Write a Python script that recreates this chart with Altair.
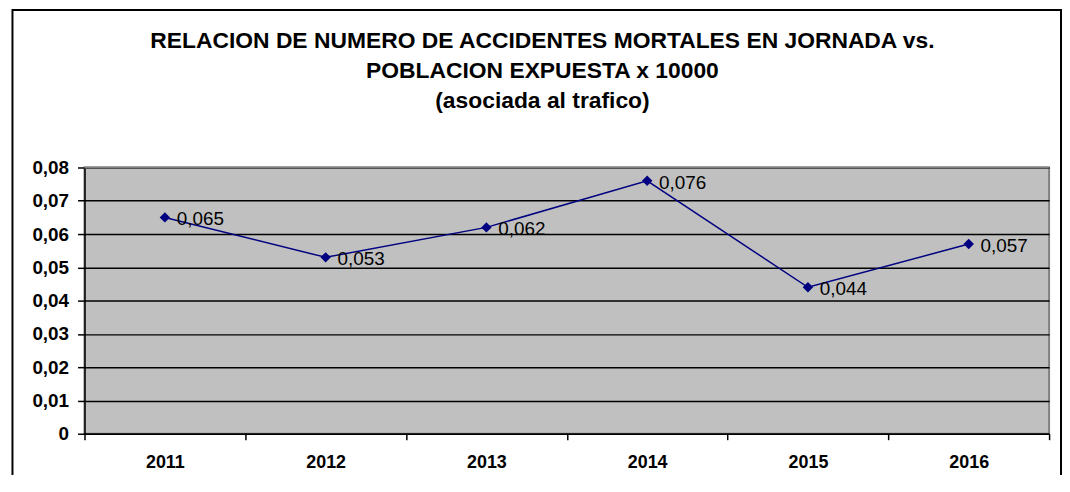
import altair as alt
import pandas as pd

years = ["2011", "2012", "2013", "2014", "2015", "2016"]
values = [0.065, 0.053, 0.062, 0.076, 0.044, 0.057]
y_ticks = [0, 0.01, 0.02, 0.03, 0.04, 0.05, 0.06, 0.07, 0.08]
title_lines = [
    "RELACION DE NUMERO DE ACCIDENTES MORTALES EN JORNADA vs.",
    "POBLACION EXPUESTA x 10000",
    "(asociada al trafico)",
]

df = pd.DataFrame({"year": years, "value": values})
FONT = "Liberation Sans"

x_enc = alt.X(
    "year:O",
    scale=alt.Scale(type="band", paddingInner=0, paddingOuter=0),
    axis=alt.Axis(
        title=None, labelAngle=0, tickBand="extent", grid=False,
        domainColor="black", domainWidth=1.5, tickColor="black", tickWidth=1.5,
        tickSize=6, labelPadding=14, labelFont=FONT, labelFontSize=18,
        labelFontWeight="bold", labelColor="black",
    ),
)
y_enc = alt.Y(
    "value:Q",
    scale=alt.Scale(domain=[0, 0.08], nice=False, zero=True),
    axis=alt.Axis(
        title=None, values=y_ticks, grid=True, gridColor="black", gridWidth=1.5,
        domainColor="black", domainWidth=1.5, tickColor="black", tickWidth=1.5,
        tickSize=7, labelPadding=9, labelFont=FONT, labelFontSize=19,
        labelFontWeight="bold", labelColor="black", labelOverlap=False,
        labelFlush=False,
        labelExpr="datum.value == 0 ? '0' : replace(format(datum.value, '.2f'), '.', ',')",
    ),
)

base = alt.Chart(df)

line = base.mark_line(color="#000080", strokeWidth=1.5).encode(x=x_enc, y=y_enc)
points = base.mark_point(shape="diamond", filled=True, size=110, color="#000080", opacity=1).encode(
    x=x_enc, y=y_enc
)
labels = base.transform_calculate(
    lab="replace(format(datum.value, '.3f'), '.', ',')"
).mark_text(align="left", baseline="middle", dx=12, dy=2, font=FONT, fontSize=19, color="black").encode(
    x=x_enc, y=y_enc, text="lab:N"
)

one = alt.Chart(pd.DataFrame({"a": [0]}))
top_line = one.mark_rule(color="#808080", strokeWidth=2).encode(
    x=alt.value(0), x2=alt.value(971), y=alt.value(0)
)
border = one.mark_rect(fill=None, stroke="black", strokeWidth=2, clip=False).encode(
    x=alt.value(-72.5), x2=alt.value(983), y=alt.value(-158.5), y2=alt.value(340)
)
title = one.mark_text(
    align="center", baseline="alphabetic", font=FONT, fontSize=23, fontWeight="bold",
    lineHeight=30, color="black", clip=False,
).encode(x=alt.value(461), y=alt.value(-120), text=alt.value(title_lines))

chart = alt.layer(border, top_line, line, points, labels, title).properties(
    width=971, height=268,
    autosize=alt.AutoSizeParams(type="none"),
    padding={"left": 77, "top": 159, "right": 13, "bottom": 40},
    background="white",
).configure_view(fill="#C0C0C0", stroke="#808080", strokeWidth=2)

chart.save("out.html", embed_options={"renderer": "svg", "actions": False})
